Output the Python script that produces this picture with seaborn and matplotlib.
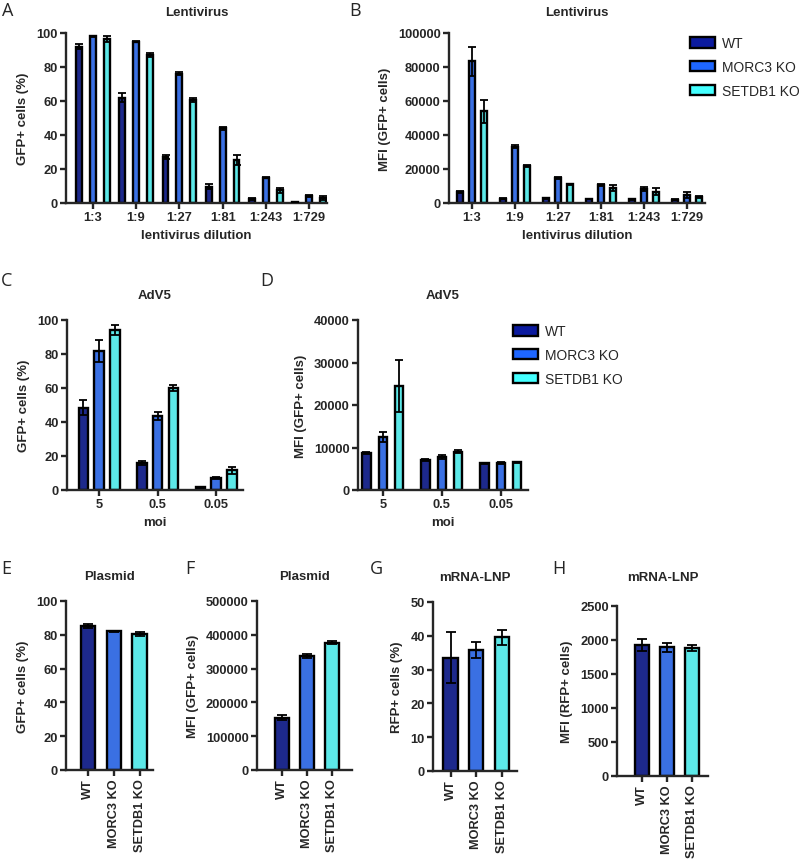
import numpy as np
import pandas as pd
import matplotlib
matplotlib.use("Agg")
import matplotlib.pyplot as plt
from matplotlib.patches import Patch
import seaborn as sns

# Data
genotypes = ["WT", "MORC3 KO", "SETDB1 KO"]
colors = ["#0b1a9e", "#1e66ff", "#45ffff"]

lenti_dilutions = ["1:3", "1:9", "1:27", "1:81", "1:243", "1:729"]
lenti_gfp = {
    "WT": [92, 62, 27, 9.5, 2.5, 0.5],
    "MORC3 KO": [98, 95, 76, 44, 15, 4],
    "SETDB1 KO": [96.5, 87, 60.5, 25.5, 7.5, 3],
}
lenti_gfp_err = {
    "WT": [1.5, 2.5, 1, 1.5, 0.5, 0.2],
    "MORC3 KO": [0.5, 0.5, 0.8, 0.8, 0.5, 0.5],
    "SETDB1 KO": [1.5, 1, 1, 3, 1.5, 1],
}
lenti_mfi = {
    "WT": [6600, 2500, 2800, 2300, 2200, 2000],
    "MORC3 KO": [83300, 33100, 14900, 10600, 8200, 4900],
    "SETDB1 KO": [53900, 21600, 11000, 8600, 6700, 3700],
}
lenti_mfi_err = {
    "WT": [500, 200, 300, 200, 200, 200],
    "MORC3 KO": [8500, 1000, 600, 500, 1000, 1800],
    "SETDB1 KO": [6800, 500, 400, 1800, 2200, 600],
}

moi = ["5", "0.5", "0.05"]
adv_gfp = {
    "WT": [48.5, 16, 1.5],
    "MORC3 KO": [82, 43.5, 7],
    "SETDB1 KO": [94, 60, 11.5],
}
adv_gfp_err = {
    "WT": [4.5, 1, 0.5],
    "MORC3 KO": [6.5, 2.5, 0.8],
    "SETDB1 KO": [3, 1.5, 1.8],
}
adv_mfi = {
    "WT": [8700, 7000, 6300],
    "MORC3 KO": [12400, 7800, 6400],
    "SETDB1 KO": [24400, 9000, 6500],
}
adv_mfi_err = {
    "WT": [200, 200, 150],
    "MORC3 KO": [1200, 400, 200],
    "SETDB1 KO": [6100, 300, 200],
}

plasmid_gfp = [85, 82, 80.5]
plasmid_gfp_err = [1.2, 0.5, 1.0]
plasmid_mfi = [155000, 337000, 377000]
plasmid_mfi_err = [8000, 5000, 5000]
lnp_rfp = [33.5, 35.8, 39.5]
lnp_rfp_err = [7.5, 2.5, 2.2]
lnp_mfi = [1930, 1890, 1880]
lnp_mfi_err = [90, 60, 40]

sns.set_style("ticks")
plt.rcParams["font.family"] = ["Liberation Sans", "DejaVu Sans"]
plt.rcParams["font.weight"] = "bold"
plt.rcParams["axes.labelweight"] = "bold"
plt.rcParams["axes.titleweight"] = "bold"

W, H = 800, 862
fig = plt.figure(figsize=(8, 8.62), dpi=100)


def make_ax(left, right, top, bottom):
    return fig.add_axes([left / W, 1 - bottom / H, (right - left) / W, (bottom - top) / H])


def style_ax(ax, ymax, ystep, xlim, title, ylabel, xlabel, title_pad):
    ax.set_ylim(0, ymax)
    ax.set_yticks(np.arange(0, ymax + 1, ystep))
    ax.set_xlim(*xlim)
    ax.set_title(title, fontsize=9.5, pad=title_pad)
    ax.set_ylabel(ylabel, fontsize=9.5, labelpad=5)
    ax.set_xlabel(xlabel, fontsize=9.5, labelpad=4)
    for s in ["top", "right"]:
        ax.spines[s].set_visible(False)
    for s in ["left", "bottom"]:
        ax.spines[s].set_linewidth(1.7)
    ax.tick_params(direction="out", length=4, width=1.7, labelsize=9.3, pad=2)
    for lab in ax.get_xticklabels() + ax.get_yticklabels():
        lab.set_fontweight("bold")


def add_errors(ax, errs):
    for cont, e in zip(ax.containers, errs):
        xs = [b.get_x() + b.get_width() / 2 for b in cont]
        hs = [b.get_height() for b in cont]
        ax.errorbar(xs, hs, yerr=e, fmt="none", ecolor="black",
                    elinewidth=1.3, capsize=3, capthick=1.3, zorder=5)


def grouped(ax, cats, vals, errs, width, gap):
    df = pd.DataFrame({
        "cat": np.tile(cats, len(genotypes)),
        "geno": np.repeat(genotypes, len(cats)),
        "val": np.concatenate([vals[g] for g in genotypes]),
    })
    sns.barplot(data=df, x="cat", y="val", hue="geno", order=cats,
                hue_order=genotypes, palette=colors, width=width, gap=gap,
                edgecolor="black", linewidth=1.7, errorbar=None,
                legend=False, ax=ax)
    add_errors(ax, [errs[g] for g in genotypes])


def single(ax, vals, errs):
    df = pd.DataFrame({"geno": genotypes, "val": vals})
    sns.barplot(data=df, x="geno", y="val", hue="geno", order=genotypes,
                hue_order=genotypes, palette=colors, width=0.56,
                edgecolor="black", linewidth=1.7, errorbar=None,
                legend=False, dodge=False, ax=ax)
    bars = [p for p in ax.patches]
    bars.sort(key=lambda b: b.get_x())
    xs = [b.get_x() + b.get_width() / 2 for b in bars]
    hs = [b.get_height() for b in bars]
    ax.errorbar(xs, hs, yerr=errs, fmt="none", ecolor="black",
                elinewidth=1.3, capsize=3.5, capthick=1.3, zorder=5)


def rotate_x(ax):
    ax.tick_params(axis="x", labelrotation=90, labelsize=9.2)


# A
axA = make_ax(66, 327, 34, 204)
grouped(axA, lenti_dilutions, lenti_gfp, lenti_gfp_err, 0.96, 0.58)
style_ax(axA, 100, 20, (-0.62, 5.41), "Lentivirus", "GFP+ cells (%)", "lentivirus dilution", 13)

# B
axB = make_ax(449, 705, 34, 204)
grouped(axB, lenti_dilutions, lenti_mfi, lenti_mfi_err, 0.84, 0.53)
style_ax(axB, 100000, 20000, (-0.53, 5.42), "Lentivirus", "MFI (GFP+ cells)", "lentivirus dilution", 13)

# C
axC = make_ax(67, 243, 321, 491)
grouped(axC, moi, adv_gfp, adv_gfp_err, 0.81, 0.39)
style_ax(axC, 100, 20, (-0.55, 2.46), "AdV5", "GFP+ cells (%)", "moi", 16)

# D
axD = make_ax(358, 528, 321, 491)
grouped(axD, moi, adv_mfi, adv_mfi_err, 0.83, 0.49)
style_ax(axD, 40000, 10000, (-0.42, 2.46), "AdV5", "MFI (GFP+ cells)", "moi", 16)

# E
axE = make_ax(66, 153, 602, 771)
single(axE, plasmid_gfp, plasmid_gfp_err)
style_ax(axE, 100, 20, (-0.86, 2.52), "Plasmid", "GFP+ cells (%)", "", 16)
rotate_x(axE)

# F
axF = make_ax(257, 352, 602, 771)
single(axF, plasmid_mfi, plasmid_mfi_err)
style_ax(axF, 500000, 100000, (-1.0, 2.8), "Plasmid", "MFI (GFP+ cells)", "", 16)
rotate_x(axF)

# G
axG = make_ax(433, 517, 603, 772)
single(axG, lnp_rfp, lnp_rfp_err)
style_ax(axG, 50, 10, (-0.69, 2.6), "mRNA-LNP", "RFP+ cells (%)", "", 16)
rotate_x(axG)

# H
axH = make_ax(617, 708, 607, 777)
single(axH, lnp_mfi, lnp_mfi_err)
style_ax(axH, 2500, 500, (-0.99, 2.65), "mRNA-LNP", "MFI (RFP+ cells)", "", 19)
rotate_x(axH)

# legends
handles = [Patch(facecolor=c, edgecolor="black", linewidth=1.7) for c in colors]
for (lx, ly) in [(690, 68), (513, 356)]:
    fig.legend(handles, genotypes, loc="center left", bbox_to_anchor=(lx / W, 1 - ly / H),
               frameon=False, prop={"size": 10, "weight": "normal"},
               handlelength=1.8, handleheight=0.75, handletextpad=0.5,
               labelspacing=0.7, borderpad=0, borderaxespad=0)

# panel letters
letters = [("A", 2, 2), ("B", 349, 2), ("C", 1, 272), ("D", 260, 272),
           ("E", 1, 560), ("F", 185, 560), ("G", 370, 560), ("H", 552, 560)]
for t, x, y in letters:
    fig.text(x / W, 1 - y / H, t, family="Open Sans", fontsize=13,
             fontweight="normal", ha="left", va="top")

fig.savefig("out.png", dpi=100)
